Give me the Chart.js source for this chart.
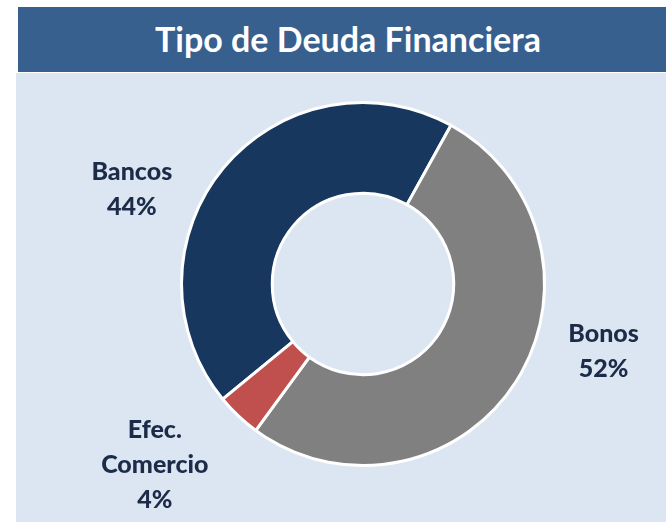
<!DOCTYPE html>
<html>
<head>
<meta charset="utf-8">
<script src="https://cdn.jsdelivr.net/npm/chart.js@4.4.1/dist/chart.umd.min.js"></script>
<style>
    html, body { margin: 0; padding: 0; background: #ffffff; }
    #wrap { position: relative; width: 666px; height: 522px; overflow: hidden; }
    #panel { position: absolute; left: 16px; top: 73px; width: 650px; height: 449px; background: #dce6f2; }
    #titleBar {
        position: absolute; left: 18px; top: 7px; width: 648px; height: 65px;
        background: #37608f; color: #ffffff;
        font: bold 34px Lato, "Open Sans", sans-serif;
        display: flex; align-items: center; justify-content: center;
        padding-left: 12px; padding-bottom: 2px; box-sizing: border-box;
    }
    #chart { position: absolute; left: 0; top: 0; }
</style>
</head>
<body>
<div id="wrap">
    <div id="panel"></div>
    <div id="titleBar">Tipo de Deuda Financiera</div>
    <canvas id="chart" width="666" height="522"></canvas>
</div>
<script>
// Data
const categories = ['Bancos', 'Bonos', 'Efec. Comercio'];
const shares = [44, 52, 4];
const labelLines = [['Bancos', '44%'], ['Bonos', '52%'], ['Efec.', 'Comercio', '4%']];
const sliceColors = ['#17375e', '#808080', '#c0504d'];

// Draws the outside labels next to each slice, starting from the slice mid-angle
const sliceLabels = {
    id: 'sliceLabels',
    afterDatasetsDraw(chart, args, opts) {
        const ctx = chart.ctx;
        const arcs = chart.getDatasetMeta(0).data;
        ctx.save();
        ctx.fillStyle = opts.color;
        ctx.font = opts.font;
        ctx.textAlign = 'center';
        ctx.textBaseline = 'alphabetic';
        arcs.forEach((arc, i) => {
            const p = arc.getProps(['x', 'y', 'startAngle', 'endAngle', 'outerRadius'], true);
            const mid = (p.startAngle + p.endAngle) / 2;
            const r = p.outerRadius + opts.gap;
            const nudge = opts.nudges[i] || [0, 0];
            const cx = p.x + Math.cos(mid) * r + nudge[0];
            const cy = p.y + Math.sin(mid) * r + nudge[1];
            const lines = labelLines[i];
            lines.forEach((txt, j) => {
                const y = cy + (j - (lines.length - 1) / 2) * opts.lineHeight + 9;
                ctx.fillText(txt, cx, y);
            });
        });
        ctx.restore();
    }
};

new Chart(document.getElementById('chart').getContext('2d'), {
    type: 'doughnut',
    data: {
        labels: categories,
        datasets: [{
            data: shares,
            backgroundColor: sliceColors,
            borderColor: '#ffffff',
            borderWidth: 3,
            hoverOffset: 0
        }]
    },
    options: {
        responsive: false,
        animation: false,
        cutout: '50%',
        rotation: -129.4,
        layout: { padding: { left: 180, right: 120, top: 101, bottom: 55 } },
        plugins: {
            legend: { display: false },
            tooltip: { enabled: false },
            title: { display: false },
            sliceLabels: {
                color: '#1b2b48',
                font: '900 25px Lato, "Open Sans", sans-serif',
                gap: 40,
                lineHeight: 35,
                nudges: [[-61, 46], [54, -53], [-56, 19]]
            }
        }
    },
    plugins: [sliceLabels]
});
</script>
</body>
</html>
